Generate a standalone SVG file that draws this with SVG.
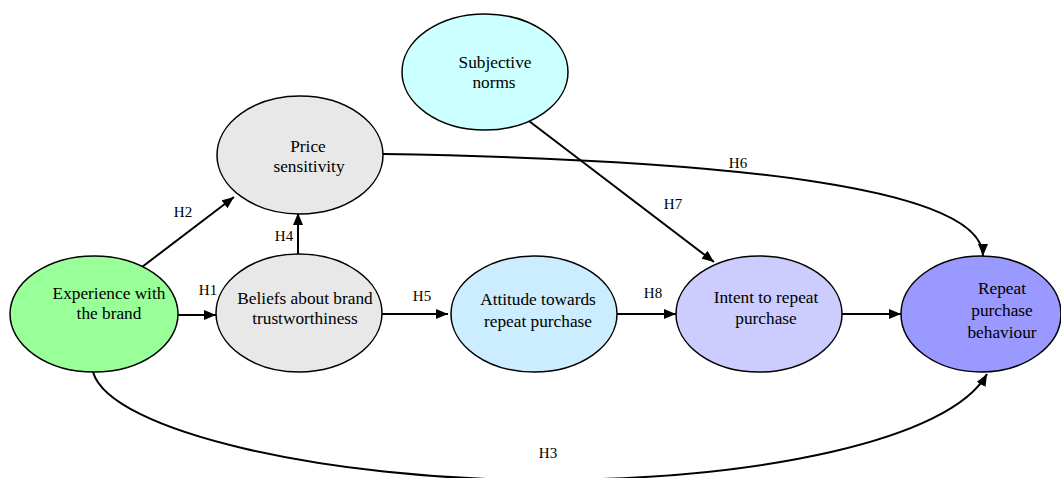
<svg xmlns="http://www.w3.org/2000/svg" width="1061" height="478" viewBox="0 0 1061 478">
<defs>
<marker id="ah" viewBox="0 0 12 10" refX="12" refY="5" markerWidth="12" markerHeight="10" markerUnits="userSpaceOnUse" orient="auto">
<path d="M0,0 L12,5 L0,10 Z" fill="#000"/>
</marker>
<style>
.n{stroke:#000;stroke-width:1.5}
.t{font-family:"Liberation Serif","Times New Roman",serif;font-size:17.3px;fill:#000;text-anchor:middle}
.l{font-family:"Liberation Serif","Times New Roman",serif;font-size:15px;fill:#000;text-anchor:middle}
.c{fill:none;stroke:#000;stroke-width:2;marker-end:url(#ah)}
</style>
</defs>
<rect width="1061" height="478" fill="#fff"/>
<g id="connectors">
<path class="c" d="M142,267 L234,197"/>
<path class="c" d="M298,254 L298,213"/>
<path class="c" d="M178,315 L216,315"/>
<path class="c" d="M382,314 L448,314"/>
<path class="c" d="M617,314 L676,314"/>
<path class="c" d="M842,314 L901,314"/>
<path class="c" d="M529,121 L714,262"/>
<path class="c" d="M383,154 C750,160 983,190 983,256"/>
<path class="c" d="M93,372 C110,432 330,480 540,480 C760,480 950,440 987,374"/>
<text class="l" x="183" y="217">H2</text>
<text class="l" x="284" y="241">H4</text>
<text class="l" x="208" y="295">H1</text>
<text class="l" x="422" y="301">H5</text>
<text class="l" x="653" y="298">H8</text>
<text class="l" x="673" y="209">H7</text>
<text class="l" x="738" y="168">H6</text>
<text class="l" x="548" y="458">H3</text>
</g>
<g id="experience">
<ellipse class="n" cx="94" cy="314" rx="84" ry="58" fill="#99FF99"/>
<text class="t" x="109" y="299">Experience with</text>
<text class="t" x="109" y="319">the brand</text>
</g>
<g id="beliefs">
<ellipse class="n" cx="299" cy="313" rx="83" ry="59" fill="#E8E8E8"/>
<text class="t" x="305" y="304">Beliefs about brand</text>
<text class="t" x="305" y="324">trustworthiness</text>
</g>
<g id="price">
<ellipse class="n" cx="300" cy="155" rx="83" ry="59" fill="#E8E8E8"/>
<text class="t" x="308" y="152">Price</text>
<text class="t" x="309" y="172">sensitivity</text>
</g>
<g id="subjective">
<ellipse class="n" cx="485" cy="72" rx="83" ry="58" fill="#CCFFFF"/>
<text class="t" x="495" y="68">Subjective</text>
<text class="t" x="494" y="88">norms</text>
</g>
<g id="attitude">
<ellipse class="n" cx="534" cy="314" rx="83" ry="58" fill="#CCECFF"/>
<text class="t" x="538" y="305">Attitude towards</text>
<text class="t" x="538" y="327">repeat purchase</text>
</g>
<g id="intent">
<ellipse class="n" cx="759" cy="314" rx="83" ry="58" fill="#CCCCFF"/>
<text class="t" x="766" y="303">Intent to repeat</text>
<text class="t" x="766" y="324">purchase</text>
</g>
<g id="repeat">
<ellipse class="n" cx="981" cy="314" rx="80" ry="58" fill="#9999FF"/>
<text class="t" x="1002" y="294">Repeat</text>
<text class="t" x="1002" y="316">purchase</text>
<text class="t" x="1002" y="338">behaviour</text>
</g>
</svg>
